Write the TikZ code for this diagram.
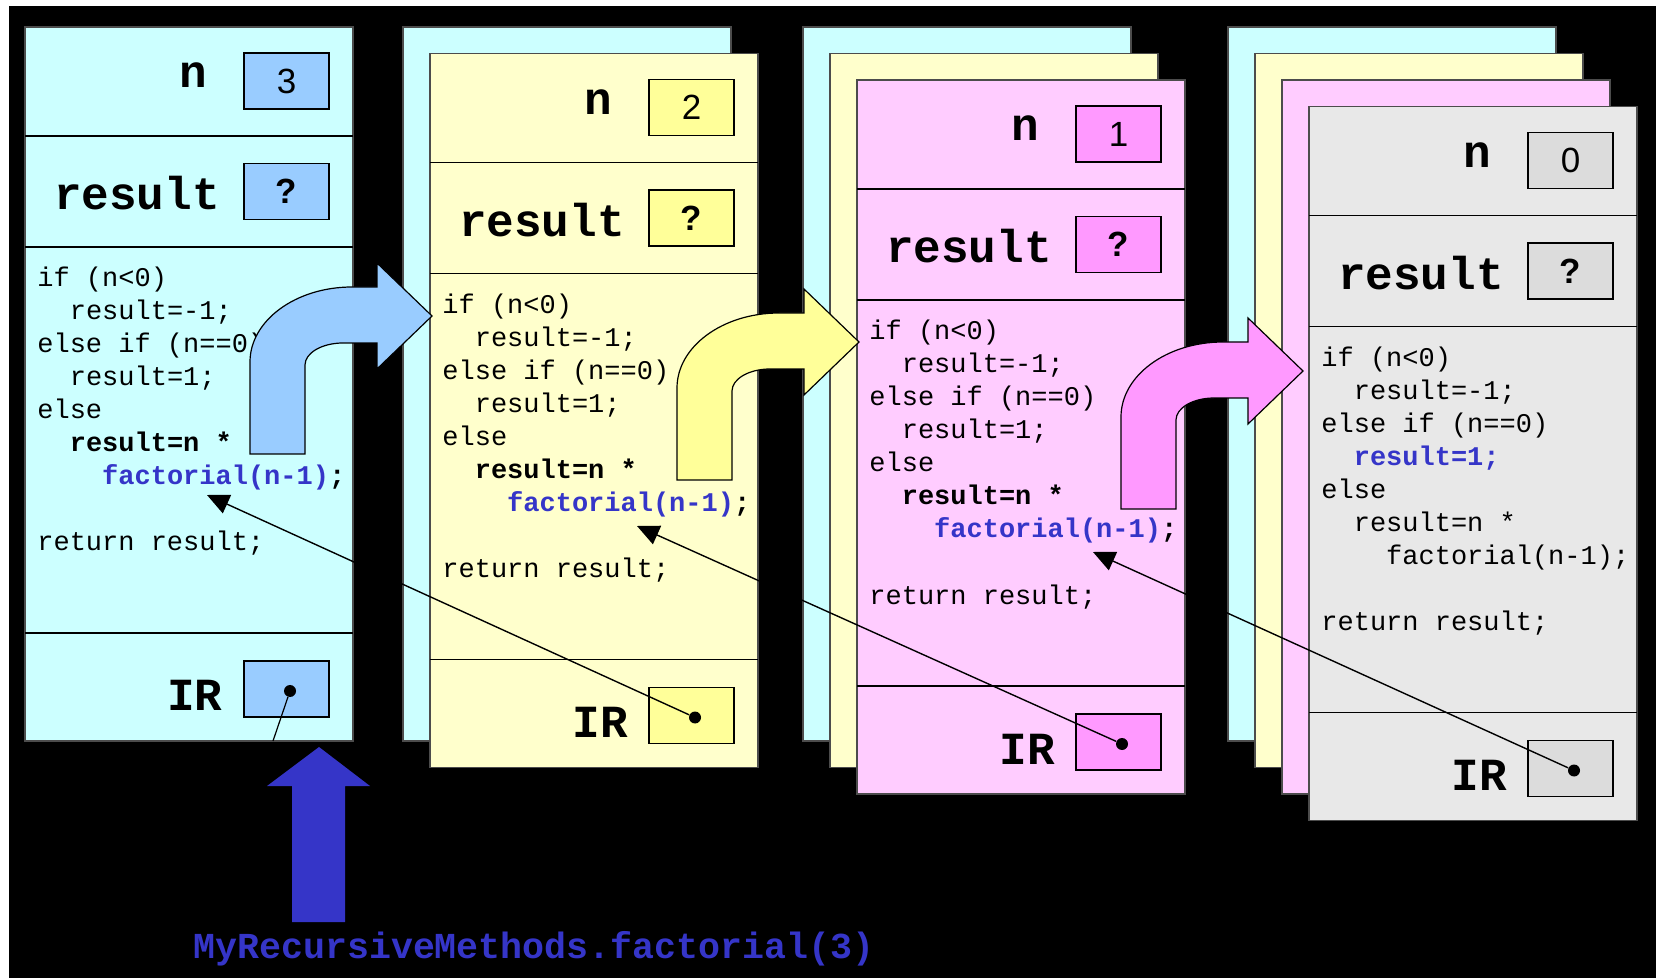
\documentclass[tikz,border=0pt]{standalone}
\usepackage{fontspec}
\setmainfont{Liberation Sans}
\setsansfont{Liberation Sans}
\setmonofont{Liberation Mono}
\usetikzlibrary{arrows.meta}

\definecolor{cyanpage}{HTML}{CCFFFF}
\definecolor{cyanbox}{HTML}{99CCFF}
\definecolor{yellowpage}{HTML}{FFFFCC}
\definecolor{yellowbox}{HTML}{FFFF99}
\definecolor{pinkpage}{HTML}{FFCCFF}
\definecolor{pinkbox}{HTML}{FF99FF}
\definecolor{graypage}{HTML}{E8E8E8}
\definecolor{graybox}{HTML}{DCDCDC}
\definecolor{callblue}{HTML}{3535C8}

\newcommand{\codefont}{\ttfamily\fontsize{13.5}{16}\selectfont}
\newcommand{\namefont}{\ttfamily\bfseries\fontsize{23}{23}\selectfont}
\newcommand{\valfont}{\sffamily\fontsize{17.5}{17.5}\selectfont}
\newcommand{\callfont}{\ttfamily\bfseries\fontsize{18.3}{18.3}\selectfont}

\begin{document}
\begin{tikzpicture}[x=0.5pt, y=-0.5pt,
  page/.style={draw=black!70, line width=0.6pt},
  rule/.style={draw=black, line width=0.8pt},
  valbox/.style={draw=black, line width=0.8pt, minimum width=42.5pt, minimum height=28pt, inner sep=0pt, font=\valfont},
  fieldname/.style={anchor=base, inner sep=0pt, font=\namefont},
  code/.style={anchor=base west, inner sep=0pt, font=\codefont},
  hot/.style={code, font=\codefont\bfseries},
  dot/.style={circle, fill=black, inner sep=0pt, minimum size=6pt},
  pointer/.style={draw=black, line width=0.7pt, -{Triangle[length=11pt,width=10pt]}},
  bendarrow/.style={draw=black, line width=0.6pt}]

\useasboundingbox (0,0) rectangle (1656,978);
\fill[white] (0,0) rectangle (1656,978);
\fill[black] (9,6) rectangle (1656,978);

% stacks of frames, back to front
\foreach \sx [count=\k] in {25,403,803,1228}{
  \foreach \pcol [count=\j] in {cyanpage,yellowpage,pinkpage,graypage}{
    \ifnum\j>\k\relax\else
      \draw[page, fill=\pcol] ({\sx+27*(\j-1)},{27+26.5*(\j-1)}) rectangle ++(328,714);
    \fi
  }
}

% front frame of each stack
\foreach \fr/\fx/\fy/\bcol/\nval in {f1/25/27/cyanbox/3, f2/430/53.5/yellowbox/2, f3/857/80/pinkbox/1, f4/1309/106.5/graybox/0}{
  \begin{scope}[shift={(\fx,\fy)}]
    \draw[rule] (0,109) -- (328,109) (0,220) -- (328,220) (0,606) -- (328,606);
    \node[fieldname] (\fr-nlab) at (168,61) {n};
    \node[valbox, fill=\bcol] (\fr-n) at (261.5,54) {\nval};
    \node[fieldname] (\fr-reslab) at (112,183) {result};
    \node[valbox, fill=\bcol] (\fr-res) at (261.5,164.5) {\bfseries ?};
    \node[fieldname] (\fr-irlab) at (170,684) {IR};
    \node[valbox, fill=\bcol] (\fr-ir) at (261.5,662) {};
    \node[dot] (\fr-dot) at (265,664) {};
  \end{scope}
}

% code of the recursive calls
\foreach \fr/\fx/\fy in {f1/25/27, f2/430/53.5, f3/857/80}{
  \begin{scope}[shift={(\fx,\fy)}]
    \node[code] (\fr-l1) at (12,260) {if (n<0)};
    \node[code] (\fr-l2) at (44.4,293) {result=-1;};
    \node[code] (\fr-l3) at (12,326) {else if (n==0)};
    \node[code] (\fr-l4) at (44.4,359) {result=1;};
    \node[code] (\fr-l5) at (12,392) {else};
    \node[hot] (\fr-l6) at (44.4,425) {result=n *};
    \node[hot] (\fr-l7) at (76.8,458) {\textcolor{callblue}{factorial(n-1)};};
    \node[code] (\fr-l8) at (12,524) {return result;};
  \end{scope}
}

% code of the base case
\begin{scope}[shift={(1309,106.5)}]
  \node[code] (f4-l1) at (12,260) {if (n<0)};
  \node[code] (f4-l2) at (44.4,293) {result=-1;};
  \node[code] (f4-l3) at (12,326) {else if (n==0)};
  \node[hot, text=callblue] (f4-l4) at (44.4,359) {result=1;};
  \node[code] (f4-l5) at (12,392) {else};
  \node[code] (f4-l6) at (44.4,425) {result=n *};
  \node[code] (f4-l7) at (76.8,458) {factorial(n-1);};
  \node[code] (f4-l8) at (12,524) {return result;};
\end{scope}

% bent call arrows
\foreach \tx/\ty/\acol in {432/316/cyanbox, 859/342/yellowbox, 1303/371/pinkbox}{
  \begin{scope}[shift={(\tx,\ty)}]
    \draw[bendarrow, fill=\acol] (-182,138) -- (-182,46) .. controls (-182,4.6) and (-136.3,-29) .. (-80,-29)
      -- (-55,-29) -- (-55,-53) -- (0,0) -- (-55,53) -- (-55,27) -- (-89,27)
      .. controls (-110,27) and (-127,36.9) .. (-127,49) -- (-127,138) -- cycle;
  \end{scope}
}

% return addresses
\coordinate (f1-tip) at (207,495);
\coordinate (f2-tip) at (637,526);
\coordinate (f3-tip) at (1093,552);
\coordinate (f1-out) at (273,741);
\draw[pointer] (f2-dot) -- (f1-tip);
\draw[pointer] (f3-dot) -- (f2-tip);
\draw[pointer] (f4-dot) -- (f3-tip);
\draw[black, line width=0.6pt] (f1-dot) -- (f1-out);

% first call
\fill[callblue] (292,922) -- (292,786) -- (267,786) -- (319,747) -- (370,786) -- (345,786) -- (345,922) -- cycle;
\node[anchor=base west, inner sep=0pt, text=callblue, font=\callfont] (call) at (193,958) {MyRecursiveMethods.factorial(3)};

\end{tikzpicture}
\end{document}
